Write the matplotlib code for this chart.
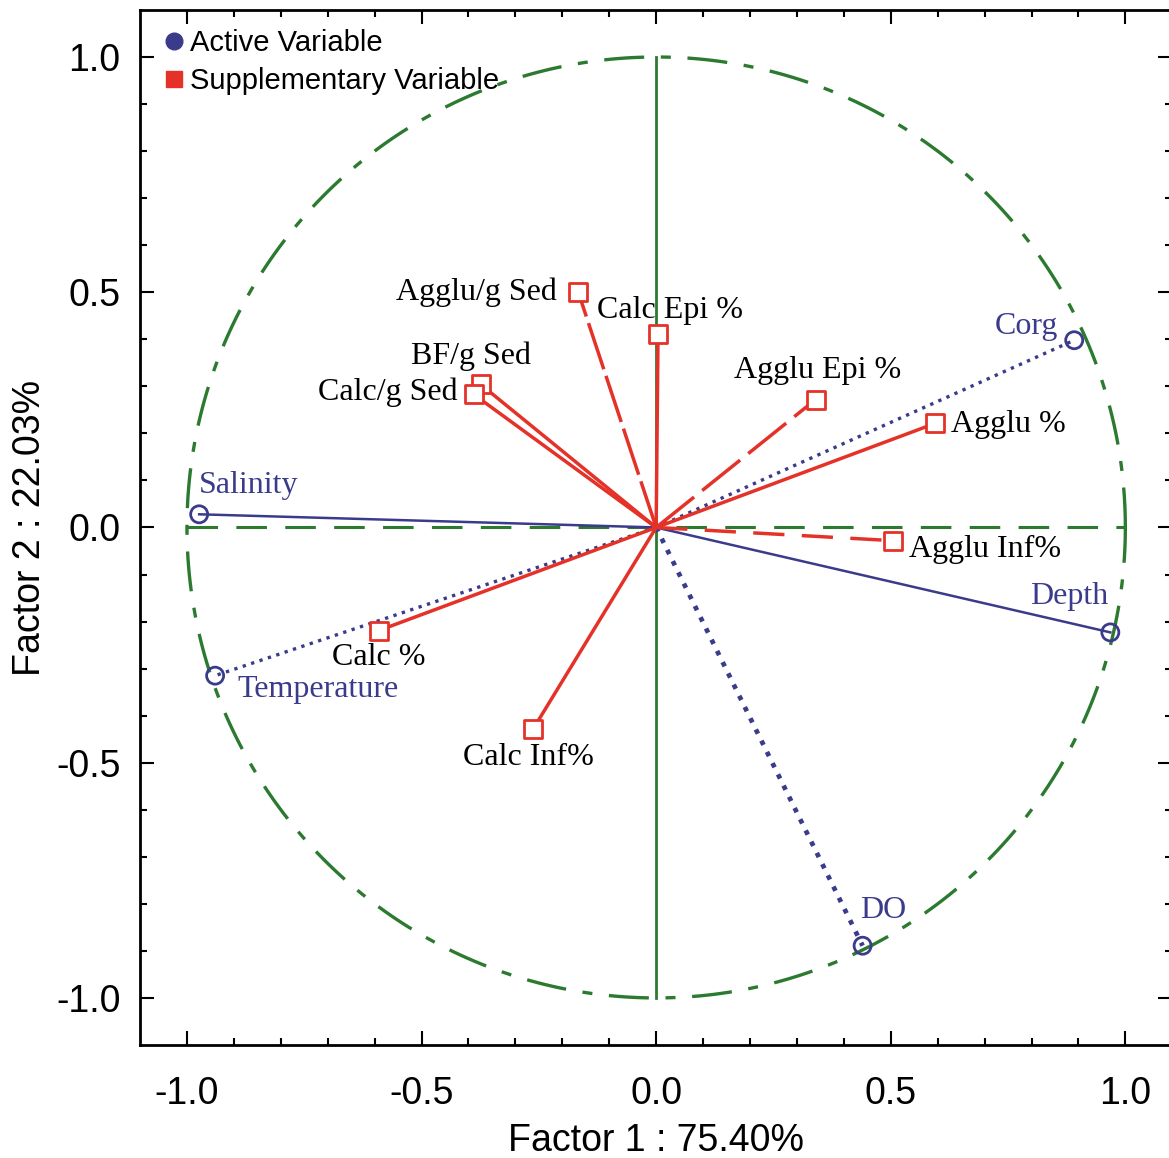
import numpy as np
import matplotlib.pyplot as plt
from matplotlib.lines import Line2D

plt.rcParams['axes.unicode_minus'] = False

# active variables
act_names = ['Salinity', 'Temperature', 'Corg', 'Depth', 'DO']
act_x = [-0.974, -0.940, 0.891, 0.968, 0.440]
act_y = [0.028, -0.315, 0.398, -0.223, -0.889]

# supplementary variables
sup_names = ['Agglu/g Sed', 'Calc Epi %', 'BF/g Sed', 'Calc/g Sed', 'Agglu Epi %',
             'Agglu %', 'Agglu Inf%', 'Calc %', 'Calc Inf%']
sup_x = [-0.166, 0.004, -0.374, -0.389, 0.340, 0.594, 0.504, -0.591, -0.262]
sup_y = [0.500, 0.411, 0.304, 0.283, 0.272, 0.221, -0.028, -0.219, -0.428]

BLUE = '#3b3b8c'
RED = '#e53228'
GREEN = '#2b7a30'

fig = plt.figure(figsize=(11.69, 11.58), dpi=100)
ax = fig.add_axes([0.1198, 0.0976, 0.883, 0.8938])

# unit circle and axes cross
t = np.linspace(0, 2 * np.pi, 400)
ax.plot(np.cos(t), np.sin(t), color=GREEN, lw=2.4, dashes=(12, 5, 3, 5))
ax.plot([0, 0], [-1, 1], color=GREEN, lw=2)
ax.plot([-1, 1], [0, 0], color=GREEN, lw=2.2, dashes=(10, 6))

act_styles = ['-', ':', ':', '-', ':']
act_lw = [1.8, 2.4, 2.4, 1.8, 3.4]
for i in range(len(act_names)):
    ax.plot([0, act_x[i]], [0, act_y[i]], color=BLUE, ls=act_styles[i], lw=act_lw[i])
ax.scatter(act_x, act_y, s=150, facecolors='none', edgecolors=BLUE, linewidths=2, zorder=5)

sup_dash = [(14, 2), None, None, None, (14, 3), None, (9, 5), None, None]
for i in range(len(sup_names)):
    if sup_dash[i] is None:
        ax.plot([0, sup_x[i]], [0, sup_y[i]], color=RED, lw=2.5)
    else:
        ax.plot([0, sup_x[i]], [0, sup_y[i]], color=RED, lw=2.5, dashes=sup_dash[i])
ax.scatter(sup_x, sup_y, s=150, marker='s', facecolors='white', edgecolors=RED, linewidths=2, zorder=5)

serif = 'Liberation Serif'
# label offsets in data units: (dx, dy, ha)
act_off = [(0.0, 0.062, 'left'), (0.047, -0.03, 'left'), (-0.035, 0.03, 'right'),
           (-0.005, 0.077, 'right'), (-0.005, 0.074, 'left')]
for i in range(len(act_names)):
    dx, dy, ha = act_off[i]
    ax.text(act_x[i] + dx, act_y[i] + dy, act_names[i], color=BLUE, fontsize=23,
            family=serif, ha=ha, va='center')

sup_off = [(-0.045, 0.0, 'right'), (-0.13, 0.05, 'left'), (-0.02, 0.06, 'center'),
           (-0.035, 0.005, 'right'), (0.005, 0.062, 'center'), (0.035, -0.003, 'left'),
           (0.035, -0.018, 'left'), (0.0, -0.058, 'center'), (-0.01, -0.06, 'center')]
for i in range(len(sup_names)):
    dx, dy, ha = sup_off[i]
    ax.text(sup_x[i] + dx, sup_y[i] + dy, sup_names[i], color='black', fontsize=23,
            family=serif, ha=ha, va='center')

ax.set_xlim(-1.1, 1.1)
ax.set_ylim(-1.1, 1.1)
ax.set_xticks([-1.0, -0.5, 0.0, 0.5, 1.0])
ax.set_yticks([-1.0, -0.5, 0.0, 0.5, 1.0])
ax.set_xticks(np.arange(-1.0, 1.01, 0.1), minor=True)
ax.set_yticks(np.arange(-1.0, 1.01, 0.1), minor=True)
ax.tick_params(which='both', direction='in', top=True, right=True, width=1.5)
ax.tick_params(which='major', length=10, labelsize=27, pad=14)
ax.tick_params(axis='x', which='major', pad=22)
ax.tick_params(which='minor', length=5)
for lab in ax.get_xticklabels() + ax.get_yticklabels():
    lab.set_family('Liberation Sans')
for sp in ax.spines.values():
    sp.set_linewidth(2)

ax.set_xlabel('Factor 1 : 75.40%', fontsize=27, family='Liberation Sans', labelpad=8)
ax.set_ylabel('Factor 2 : 22.03%', fontsize=27, family='Liberation Sans', labelpad=6)

handles = [Line2D([], [], marker='o', color=BLUE, ls='none', markersize=12),
           Line2D([], [], marker='s', color=RED, ls='none', markersize=12)]
ax.legend(handles, ['Active Variable', 'Supplementary Variable'], loc='upper left',
          frameon=False, prop={'family': 'Liberation Sans', 'size': 21},
          handletextpad=0.05, borderaxespad=0.2, borderpad=0.45,
          labelspacing=0.35, handlelength=1.0)

fig.savefig('out.png', dpi=100)
